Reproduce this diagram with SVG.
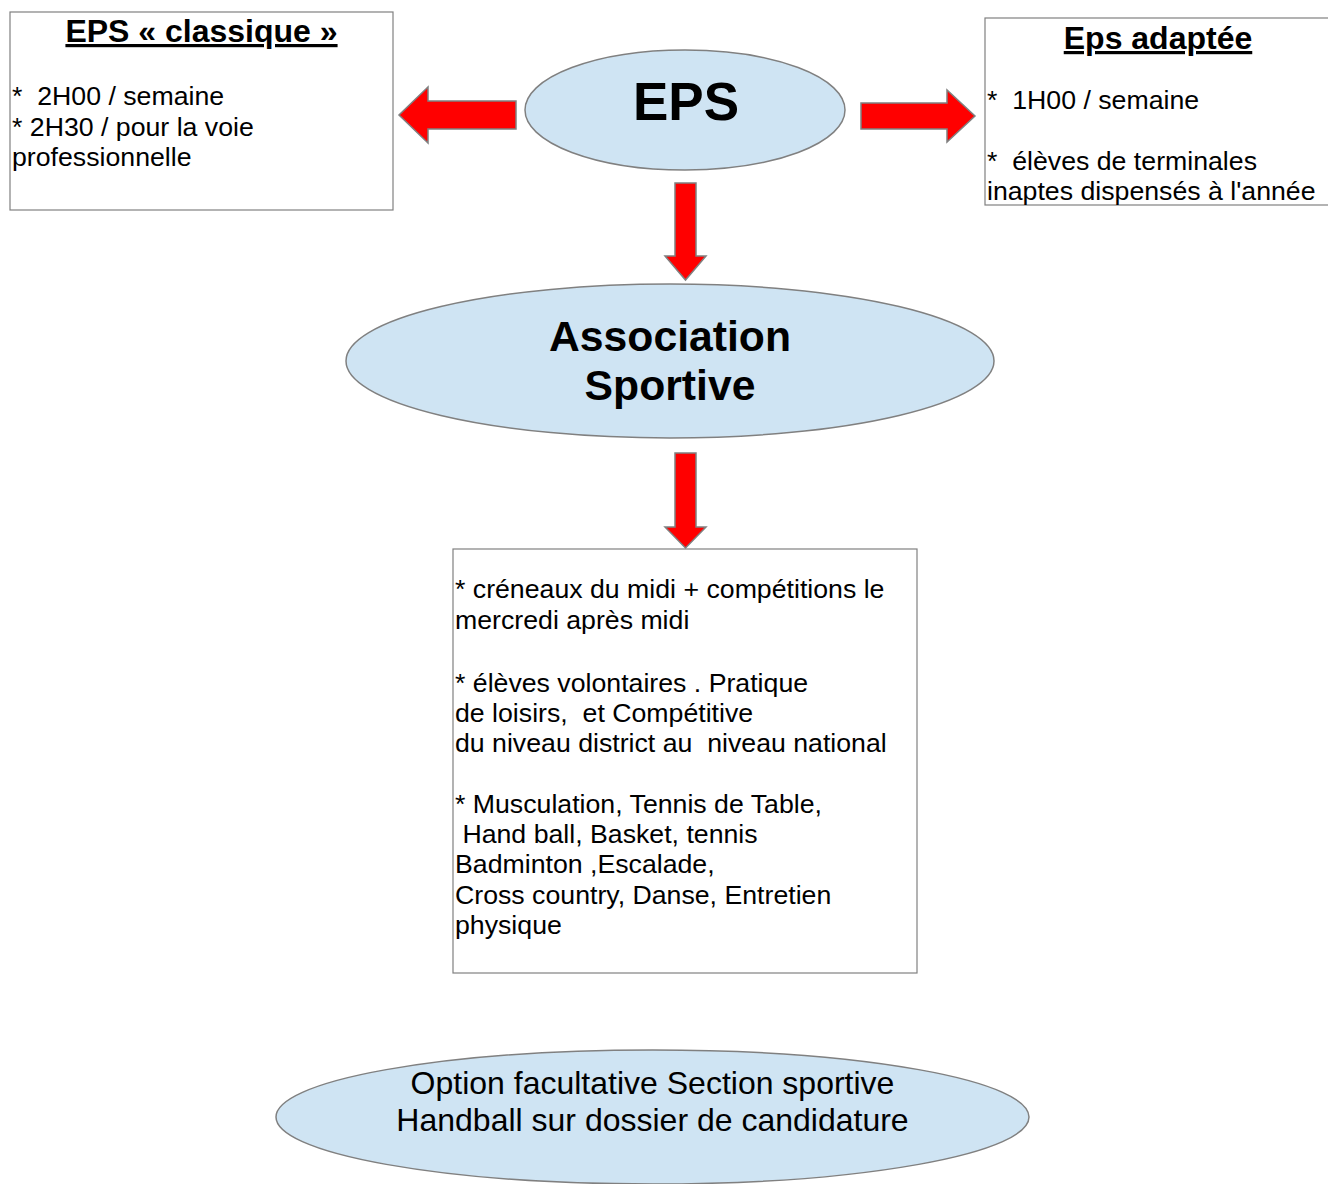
<svg xmlns="http://www.w3.org/2000/svg" width="1328" height="1184" viewBox="0 0 1328 1184">
<style>
.bg{fill:#ffffff}
.ell{fill:#cfe4f3;stroke:#808080;stroke-width:1.5}
.box{fill:#ffffff;stroke:#808080;stroke-width:1.2}
.arr{fill:#ff0000;stroke:#808080;stroke-width:1.5;stroke-linejoin:miter}
.t{font-family:"Liberation Sans",Arial,sans-serif;fill:#000000}
.body{font-size:26.7px}
.ttl{font-size:32px;font-weight:bold;text-decoration:underline}
.big{font-weight:bold}
</style>
<rect class="bg" x="0" y="0" width="1328" height="1184"/>
<g id="connectors">
<polygon class="arr" points="516,101 428,101 428,87 399,115 428,143 428,129 516,129"/>
<polygon class="arr" points="861,103 947,103 947,90 975,116 947,142 947,129 861,129"/>
<polygon class="arr" points="675,183 696,183 696,256 706,256 685.5,280 665,256 675,256"/>
<polygon class="arr" points="675,453 696,453 696,527 706,527 685.5,548 665,527 675,527"/>
</g>
<g id="eps-classique">
<rect class="box" x="10" y="12" width="383" height="198"/>
<text class="t ttl" x="201.5" y="42" text-anchor="middle">EPS « classique »</text>
<text class="t body" x="12" y="105" xml:space="preserve">*  2H00 / semaine</text>
<text class="t body" x="12" y="135.5">* 2H30 / pour la voie</text>
<text class="t body" x="12" y="166">professionnelle</text>
</g>
<g id="eps">
<ellipse class="ell" cx="685" cy="110" rx="160" ry="60"/>
<text class="t big" x="686" y="120" font-size="53" text-anchor="middle">EPS</text>
</g>
<g id="eps-adaptee">
<rect class="box" x="985" y="18" width="346" height="187"/>
<text class="t ttl" x="1158" y="49" text-anchor="middle">Eps adaptée</text>
<text class="t body" x="987" y="109" xml:space="preserve">*  1H00 / semaine</text>
<text class="t body" x="987" y="170" xml:space="preserve">*  élèves de terminales</text>
<text class="t body" x="987" y="200">inaptes dispensés à l'année</text>
</g>
<g id="association">
<ellipse class="ell" cx="670" cy="361" rx="324" ry="77"/>
<text class="t big" x="670" y="351" font-size="42.7" text-anchor="middle">Association</text>
<text class="t big" x="670" y="400" font-size="42.7" text-anchor="middle">Sportive</text>
</g>
<g id="as-details">
<rect class="box" x="453" y="549" width="464" height="424"/>
<text class="t body" x="455" y="598">* créneaux du midi + compétitions le</text>
<text class="t body" x="455" y="629">mercredi après midi</text>
<text class="t body" x="455" y="692">* élèves volontaires . Pratique</text>
<text class="t body" x="455" y="722" xml:space="preserve">de loisirs,  et Compétitive</text>
<text class="t body" x="455" y="752" xml:space="preserve">du niveau district au  niveau national</text>
<text class="t body" x="455" y="813">* Musculation, Tennis de Table,</text>
<text class="t body" x="455" y="843" xml:space="preserve"> Hand ball, Basket, tennis</text>
<text class="t body" x="455" y="873">Badminton ,Escalade,</text>
<text class="t body" x="455" y="904">Cross country, Danse, Entretien</text>
<text class="t body" x="455" y="934">physique</text>
</g>
<g id="section-sportive">
<ellipse class="ell" cx="652.5" cy="1117" rx="376.5" ry="67"/>
<text class="t" x="652.5" y="1094" font-size="32" text-anchor="middle">Option facultative Section sportive</text>
<text class="t" x="652.5" y="1131" font-size="32" text-anchor="middle">Handball sur dossier de candidature</text>
</g>
</svg>
